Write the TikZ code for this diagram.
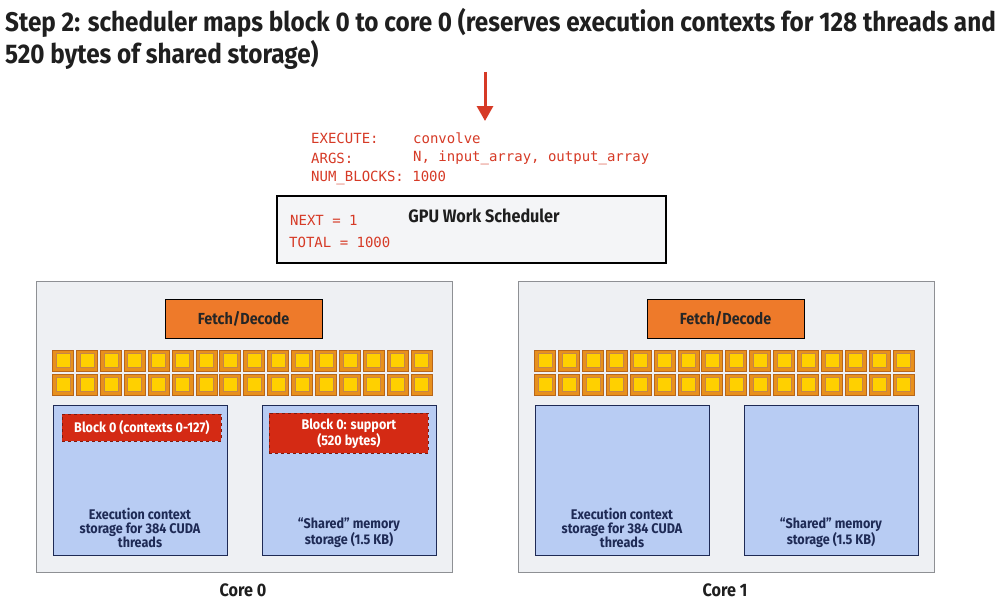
\documentclass[tikz,border=0pt]{standalone}
\usepackage{fontspec}
\setmainfont{Fira Sans}
\newfontfamily\tf{Fira Sans}[FakeStretch=0.9]
\newfontfamily\cf{DejaVu Sans Mono}
\usetikzlibrary{arrows.meta}
\definecolor{codered}{HTML}{D63A26}
\definecolor{schedfill}{HTML}{F4F5F7}
\definecolor{corefill}{HTML}{EEF0F3}
\definecolor{coreborder}{HTML}{8E9094}
\definecolor{fdorange}{HTML}{EE7A2A}
\definecolor{sqouter}{HTML}{E8901C}
\definecolor{sqborder}{HTML}{B8661A}
\definecolor{sqinner}{HTML}{FFD000}
\definecolor{memblue}{HTML}{B8CCF3}
\definecolor{navy}{HTML}{1E2A55}
\definecolor{blockred}{HTML}{D42A14}
\tikzset{
  title/.style={anchor=base west, inner sep=0, font=\tf\bfseries\fontsize{27}{30}\selectfont, text=black!88},
  code/.style={anchor=west, inner sep=0, font=\cf\fontsize{14}{16}\selectfont, text=codered},
  corebox/.style={draw=coreborder, fill=corefill, line width=1.2},
  fdbox/.style={draw=black, fill=fdorange, line width=1.2, font=\tf\bfseries\fontsize{16}{19}\selectfont, text=black!85},
  membox/.style={draw=navy, fill=memblue, line width=1.2},
  memtext/.style={align=center, inner sep=0, font=\tf\bfseries\fontsize{14}{14}\selectfont, text=navy},
  blockbox/.style={draw=blockred!60!black, dashed, fill=blockred, line width=0.8, align=center, text=white, font=\tf\bfseries\fontsize{14}{15}\selectfont},
  corelabel/.style={font=\tf\bfseries\fontsize{18}{20}\selectfont, text=black!88},
}
\begin{document}
\begin{tikzpicture}[x=1pt,y=-1pt]
\useasboundingbox (0,0) rectangle (1007,610);
\fill[white] (0,0) rectangle (1007,610);
% title
\node[title] (t1) at (5,32) {Step 2: scheduler maps block 0 to core 0 (reserves execution contexts for 128 threads and};
\node[title] (t2) at (5,64) {520 bytes of shared storage)};
% arrow
\coordinate (atop) at (485,72);
\coordinate (atip) at (485,121);
\draw[codered, line width=3, -{Triangle[width=16pt,length=15pt]}] (atop) -- (atip);
% code
\node[code] (c1) at (311,138) {EXECUTE:};
\node[code] (c1v) at (413,138) {convolve};
\node[code] (c2) at (311,158) {ARGS:};
\node[code] (c2v) at (413,158) {N, input\_array, output\_array};
\node[code] (c3) at (311,178) {NUM\_BLOCKS: 1000};
% scheduler
\node[draw=black, fill=schedfill, line width=2, minimum width=389, minimum height=67, inner sep=0] (sched) at (471.5,229.5) {};
\node[font=\tf\bfseries\fontsize{18}{20}\selectfont, text=black!88, inner sep=0] (schedlbl) at (484,216) {GPU Work Scheduler};
\node[code] (nxt) at (290,220) {NEXT = 1};
\node[code] (tot) at (289,242) {TOTAL = 1000};
% cores
\foreach \cx/\nm/\lbl in {36/0/Core 0, 518/1/Core 1}{
  \node[corebox, minimum width=416, minimum height=291, inner sep=0, anchor=north west] (core\nm) at (\cx,281) {};
  \node[fdbox, minimum width=157, minimum height=39, inner sep=0, anchor=north west] (fd\nm) at (\cx+128.5,299) {Fetch/Decode};
  \foreach \r in {0,1}{
    \foreach \i in {0,...,15}{
      \path[draw=sqborder, fill=sqouter, line width=0.8] (\cx+16.5+\i*23.9,350+\r*24) rectangle ++(21,21);
      \path[draw=sqborder!80, fill=sqinner, line width=0.6] (\cx+20,353.5+\r*24) ++(\i*23.9,0) rectangle ++(14,14);
    }
  }
  \node[membox, minimum width=174, minimum height=150, inner sep=0, anchor=north west] (ctx\nm) at (\cx+17,405) {};
  \node[membox, minimum width=174, minimum height=150, inner sep=0, anchor=north west] (shm\nm) at (\cx+226,405) {};
  \node[memtext] (ctxt\nm) at (\cx+104,528) {Execution context\\storage for 384 CUDA\\threads};
  \node[memtext] (shmt\nm) at (\cx+313,533) {“Shared” memory\\storage (1.5 KB)};
  \node[corelabel] (clbl\nm) at (\cx+207,590) {\lbl};
}
% block 0 allocations in core 0
\node[blockbox, minimum width=159, minimum height=27, inner sep=0, anchor=north west] (blk0ctx) at (62,414) {Block 0 (contexts 0-127)};
\node[blockbox, minimum width=159, minimum height=40, inner sep=0, anchor=north west] (blk0shm) at (269,413) {Block 0: support\\(520 bytes)};
\end{tikzpicture}
\end{document}
